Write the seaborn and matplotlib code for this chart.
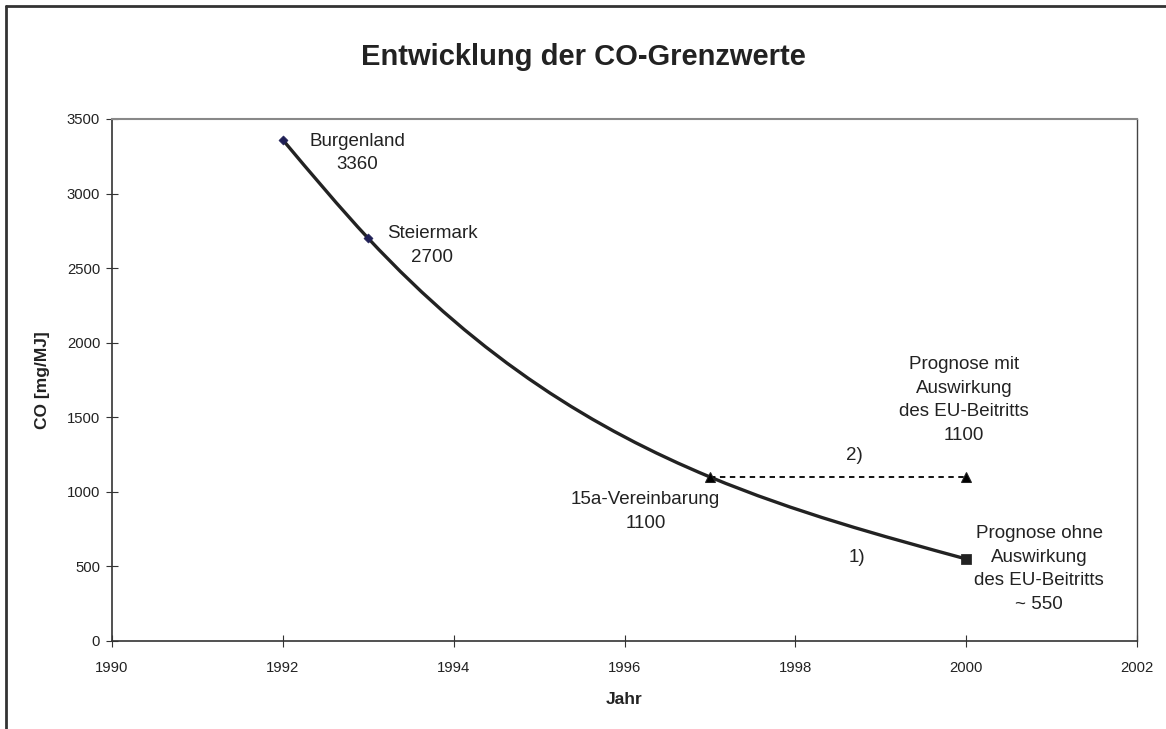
import numpy as np
import pandas as pd
import matplotlib
matplotlib.use("Agg")
import matplotlib.pyplot as plt
from matplotlib.path import Path
from matplotlib.patches import PathPatch
from matplotlib.lines import Line2D
import seaborn as sns

# Data
jahre = [1992, 1993, 1997, 2000]
grenzwerte = [3360, 2700, 1100, 550]
prognose_jahre = [1997, 2000]
prognose_mit = [1100, 1100]


def smooth_path(x, y):
    """Natural cubic spline through the points, drawn as bezier segments."""
    x = np.asarray(x, dtype=float)
    y = np.asarray(y, dtype=float)
    n = len(x)
    h = np.diff(x)
    s = np.diff(y) / h
    A = np.zeros((n, n))
    b = np.zeros(n)
    A[0, 0] = A[-1, -1] = 1
    for i in range(1, n - 1):
        A[i, i - 1] = h[i - 1]
        A[i, i] = 2 * (h[i - 1] + h[i])
        A[i, i + 1] = h[i]
        b[i] = 6 * (s[i] - s[i - 1])
    M = np.linalg.solve(A, b)
    verts = [(x[0], y[0])]
    codes = [Path.MOVETO]
    for i in range(n - 1):
        d0 = s[i] - h[i] * (2 * M[i] + M[i + 1]) / 6
        d1 = s[i] + h[i] * (M[i] + 2 * M[i + 1]) / 6
        verts += [(x[i] + h[i] / 3, y[i] + d0 * h[i] / 3),
                  (x[i + 1] - h[i] / 3, y[i + 1] - d1 * h[i] / 3),
                  (x[i + 1], y[i + 1])]
        codes += [Path.CURVE4] * 3
    return Path(verts, codes)


sns.set_theme(style="white")
plt.rcParams['font.family'] = ['Liberation Sans', 'DejaVu Sans']

fig = plt.figure(figsize=(11.66, 7.29), dpi=100)
ax = fig.add_axes([112 / 1166, 1 - 641 / 729, (1137 - 112) / 1166, (641 - 119) / 729])

# smoothed main line
ax.add_patch(PathPatch(smooth_path(jahre, grenzwerte), facecolor='none',
                       edgecolor='#222222', lw=2.4, zorder=3))

# dashed prognosis line
df_mit = pd.DataFrame({'Jahr': prognose_jahre, 'CO': prognose_mit})
sns.lineplot(data=df_mit, x='Jahr', y='CO', ax=ax, color='black', lw=1.3,
             linestyle=(0, (3, 2.5)), marker='^', markersize=6.5,
             markeredgecolor='#222222', zorder=4)

# markers for the main series
df = pd.DataFrame({'Jahr': jahre, 'CO': grenzwerte})
sns.scatterplot(data=df.iloc[:2], x='Jahr', y='CO', ax=ax, marker='D', s=22,
                color='#1f1f55', edgecolor='#1f1f55', zorder=5)
sns.scatterplot(data=df.iloc[3:], x='Jahr', y='CO', ax=ax, marker='s', s=45,
                color='#222222', edgecolor='#222222', zorder=5)

ax.set_xlim(1990, 2002)
ax.set_ylim(0, 3500)
ax.set_xticks(range(1990, 2003, 2))
ax.set_yticks(range(0, 3501, 500))
ax.tick_params(axis='both', direction='inout', length=9, width=0.8, color='#333333',
               labelsize=10.7, labelcolor='#222222', bottom=True, left=True)
ax.tick_params(axis='x', pad=10)
ax.tick_params(axis='y', pad=4)
for s in ['left', 'bottom']:
    ax.spines[s].set_color('#333333')
    ax.spines[s].set_linewidth(1.2)
ax.spines['right'].set_color('#444444')
ax.spines['top'].set_color('#888888')
ax.spines['right'].set_linewidth(1.0)
ax.spines['top'].set_linewidth(1.5)

ax.set_xlabel('Jahr', fontsize=12.5, fontweight='bold', labelpad=12, color='#222222')
ax.set_ylabel('CO [mg/MJ]', fontsize=12.5, fontweight='bold', labelpad=12, color='#222222')
fig.text(583 / 1166, 1 - 57 / 729, 'Entwicklung der CO-Grenzwerte', ha='center', va='center',
         fontsize=21, fontweight='bold', color='#222222')

# annotations (figure pixel positions)
txt = dict(ha='center', va='center', fontsize=13.5, color='#222222', linespacing=1.5)


def lab(px, py, s):
    fig.text(px / 1166, 1 - py / 729, s, **txt)


lab(357, 153, 'Burgenland\n3360')
lab(432, 245.5, 'Steiermark\n2700')
lab(964, 400, 'Prognose mit\nAuswirkung\ndes EU-Beitritts\n1100')
lab(854, 455, '2)')
lab(645.5, 511.5, '15a-Vereinbarung\n1100')
lab(857, 558, '1)')
lab(1039, 569, 'Prognose ohne\nAuswirkung\ndes EU-Beitritts\n~ 550')

# outer frame of the chart area
fig.add_artist(Line2D([6 / 1166, 6 / 1166], [0, 1 - 6 / 729], transform=fig.transFigure,
                      color='#333333', lw=2))
fig.add_artist(Line2D([6 / 1166, 1], [1 - 6 / 729, 1 - 6 / 729], transform=fig.transFigure,
                      color='#333333', lw=2))

fig.savefig('out.png', dpi=100)
